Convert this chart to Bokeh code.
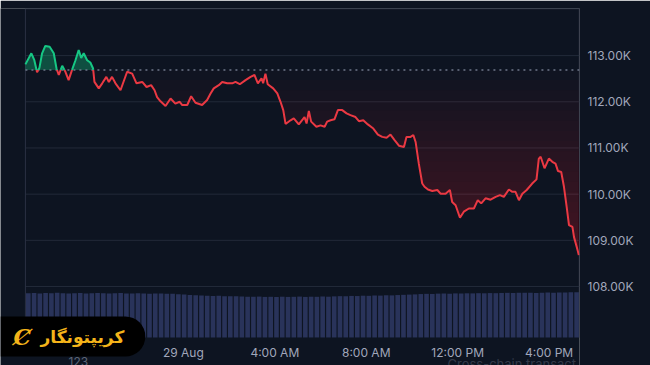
import numpy as np
from bokeh.plotting import figure
from bokeh.models import Range1d, FixedTicker, Label
from bokeh.core.properties import value
from bokeh.embed import file_html
from bokeh.resources import INLINE

# ---- data (hours relative to 29 Aug 00:00, price in thousands USD) ----
times = [-6.91, -6.65, -6.52, -6.40, -6.30, -6.18, -6.04, -5.85, -5.67, -5.55,
         -5.45, -5.30, -5.16, -5.02, -4.87, -4.72, -4.58, -4.47, -4.36, -4.21,
         -4.07, -3.95, -3.89, -3.70, -3.55, -3.37, -3.26, -3.12, -2.97, -2.75,
         -2.46, -2.24, -2.05, -1.80, -1.61, -1.41, -1.26, -1.15, -1.00, -0.78,
         -0.56, -0.35, -0.16, -0.05, 0.17, 0.34, 0.53, 0.82, 1.04, 1.19,
         1.33, 1.55, 1.70, 1.92, 2.14, 2.28, 2.47, 2.72, 2.94, 3.11,
         3.26, 3.42, 3.49, 3.59, 3.69, 3.93, 4.11, 4.25, 4.37, 4.47,
         4.69, 4.83, 5.05, 5.30, 5.39, 5.49, 5.59, 5.82, 6.00, 6.18,
         6.29, 6.44, 6.61, 6.76, 6.95, 7.14, 7.31, 7.53, 7.68, 7.87,
         8.07, 8.31, 8.51, 8.70, 8.89, 9.06, 9.24, 9.43, 9.65, 9.76,
         9.94, 10.06, 10.16, 10.30, 10.45, 10.55, 10.70, 10.89, 11.11, 11.25,
         11.47, 11.66, 11.76, 11.91, 12.10, 12.27, 12.49, 12.71, 12.88, 13.03,
         13.22, 13.44, 13.66, 13.85, 14.02, 14.24, 14.39, 14.53, 14.68, 14.83,
         15.02, 15.26, 15.45, 15.55, 15.63, 15.80, 15.99, 16.14, 16.28, 16.39,
         16.53, 16.65, 16.77, 16.87, 17.02, 17.09, 17.23, 17.30]
price_k = [112.81, 113.05, 112.90, 112.64, 112.73, 113.05, 113.21, 113.19, 113.05, 112.72,
           112.58, 112.78, 112.65, 112.47, 112.69, 112.90, 113.12, 112.95, 113.05, 112.90,
           112.85, 112.72, 112.43, 112.29, 112.40, 112.54, 112.43, 112.54, 112.40, 112.25,
           112.65, 112.61, 112.40, 112.43, 112.32, 112.36, 112.25, 112.10, 112.01, 111.91,
           112.07, 111.96, 112.00, 111.93, 111.93, 112.12, 111.98, 111.93, 112.04, 112.18,
           112.29, 112.36, 112.43, 112.40, 112.40, 112.43, 112.38, 112.47, 112.54, 112.58,
           112.40, 112.51, 112.40, 112.61, 112.38, 112.29, 112.18, 112.00, 111.82, 111.52,
           111.60, 111.64, 111.51, 111.67, 111.53, 111.80, 111.57, 111.46, 111.49, 111.46,
           111.57, 111.60, 111.62, 111.82, 111.82, 111.75, 111.71, 111.67, 111.58, 111.60,
           111.51, 111.42, 111.29, 111.24, 111.22, 111.29, 111.17, 111.05, 111.02, 111.24,
           111.24, 111.28, 111.13, 110.66, 110.23, 110.16, 110.10, 110.07, 110.09, 110.01,
           110.01, 110.09, 109.83, 109.76, 109.49, 109.62, 109.69, 109.69, 109.87, 109.80,
           109.91, 109.88, 109.94, 109.98, 109.94, 110.10, 110.05, 110.05, 109.87, 110.01,
           110.09, 110.23, 110.32, 110.77, 110.81, 110.56, 110.77, 110.70, 110.66, 110.50,
           110.48, 110.16, 109.72, 109.33, 109.29, 109.07, 108.82, 108.68]
baseline_k = 112.69

# 24h volume (billions USD), 96 bars across the window
volume_b = [40.2, 40.5, 40.1, 40.4, 40.3, 40.6, 40.2, 40.0, 40.3, 40.4, 40.1, 40.2, 40.5,
            40.3, 40.0, 40.2, 40.4, 40.1, 39.9, 40.2, 40.0, 39.8, 40.1, 39.9, 39.7, 39.8,
            39.4, 39.0, 38.7, 38.5, 38.2, 38.0, 37.8, 37.9, 37.6, 37.5, 37.4, 37.3,
            37.1, 37.0, 37.2, 36.9, 37.0, 36.8, 37.1, 36.9, 37.0, 37.2, 36.9, 37.1, 37.0,
            37.3, 37.1, 37.4,
            37.6, 37.5, 37.8, 37.7, 38.0, 37.9, 38.2, 38.1, 38.4, 38.3, 38.6, 38.8, 39.0, 39.2,
            39.5, 39.7, 39.6, 39.9, 40.0, 39.8, 40.1, 40.0, 40.2, 40.1, 40.3, 40.2,
            40.4, 40.3, 40.5, 40.6, 40.4, 40.7, 40.6, 40.8, 40.5, 40.7, 40.9, 40.8, 41.0,
            40.9, 41.1, 41.2]

x_ticks = [0, 4, 8, 12, 16]
x_labels = ["29 Aug", "4:00 AM", "8:00 AM", "12:00 PM", "4:00 PM"]
y_ticks = [108, 109, 110, 111, 112, 113]
y_labels = ["108.00K", "109.00K", "110.00K", "111.00K", "112.00K", "113.00K"]
brand = "کریپتونگار"

# ---- styling ----
BG = "#0d1421"
GRID = "#222a39"
BORDER = "#2a3142"
TXT = "#a1a7bb"
GREEN = "#16c784"
RED = "#ea3943"
VOL = "#29335a"
GOLD = "#f4b41a"

# chart window (data extent) and the pane below it
t_start, t_end = -6.91, 17.33
p_low, p_high = 106.89, 114.02
p = figure(width=650, height=365, output_backend="svg", toolbar_location=None,
           x_range=Range1d(-8.00, t_end), y_range=Range1d(106.29, p_high),
           x_axis_location=None, y_axis_location="right",
           min_border_left=0, min_border_top=8, min_border_right=71, min_border_bottom=0)
p.background_fill_color = BG
p.border_fill_color = BG
p.outline_line_color = None
p.xgrid.visible = False
p.ygrid.visible = False

# gridlines and frame border
p.segment(x0=t_start, x1=t_end, y0=y_ticks, y1=y_ticks, line_color=GRID, line_width=1)
p.line(x=[t_start, t_start, t_end - 0.01, t_end - 0.01], y=[p_low, p_high - 0.005, p_high - 0.005, p_low],
       line_color=BORDER, line_width=1)

# volume
p.extra_y_ranges = {"vol": Range1d(-25.5, 299.3)}
n = len(volume_b)
step = (t_end - t_start) / n
vol_x = t_start + (np.arange(n) + 0.5) * step
p.vbar(x=vol_x, top=volume_b, bottom=0, width=step * 0.8, y_range_name="vol",
       fill_color=VOL, line_color=None)

# split series at baseline crossings
t = np.array(times, dtype=float)
pr = np.array(price_k, dtype=float)
tt, pp = [t[0]], [pr[0]]
for i in range(1, len(t)):
    a, b = pr[i - 1] - baseline_k, pr[i] - baseline_k
    if a * b < 0:
        f = a / (a - b)
        tt.append(t[i - 1] + f * (t[i] - t[i - 1]))
        pp.append(baseline_k)
    tt.append(t[i])
    pp.append(pr[i])
tt = np.array(tt)
pp = np.array(pp)

# green fill above baseline
p.varea(x=tt, y1=np.full_like(pp, baseline_k), y2=np.maximum(pp, baseline_k),
        fill_color=GREEN, fill_alpha=0.33)

# red gradient fill below baseline (stacked translucent layers)
levels = np.arange(baseline_k, 108.4, -0.22)
for L in levels:
    p.varea(x=tt, y1=np.minimum(pp, L), y2=np.full_like(pp, L),
            fill_color=RED, fill_alpha=0.016)

# baseline (dotted)
p.segment(x0=[t_start], x1=[t_end], y0=[baseline_k], y1=[baseline_k],
          line_color="#6f778a", line_dash="2 4", line_width=1.5)

green_y = np.where(pp >= baseline_k, pp, np.nan)
red_y = np.where(pp <= baseline_k, pp, np.nan)
p.line(tt, red_y, line_color=RED, line_width=2)
p.line(tt, green_y, line_color=GREEN, line_width=2)

# price axis (right)
yax = p.yaxis[0]
yax.axis_line_color = None
yax.major_tick_line_color = None
yax.minor_tick_line_color = None
yax.major_tick_out = 0
yax.major_tick_in = 0
yax.minor_tick_out = 0
yax.minor_tick_in = 0
yax.major_label_text_color = TXT
yax.major_label_text_font = "Inter"
yax.major_label_text_font_size = "12px"
yax.ticker = FixedTicker(ticks=y_ticks)
yax.major_label_overrides = dict(zip(y_ticks, y_labels))
yax.major_label_standoff = 8

# time labels, below the volume pane
p.text(x=x_ticks, y=[106.575] * len(x_ticks), text=x_labels, text_align="center",
       text_baseline="middle", text_font=value("Inter"), text_font_size="12px",
       text_color=TXT)


def canvas_label(**kw):
    try:
        lab = Label(x_units="canvas", y_units="canvas", level="overlay", **kw)
    except Exception:
        lab = Label(x_units="screen", y_units="screen", level="overlay", **kw)
    p.add_layout(lab)
    return lab


# page fragments near the bottom edge
canvas_label(x=68, y=356, text="123", text_font="Inter", text_font_size="12px",
             text_color="#5c6476", text_align="left", text_baseline="top")
canvas_label(x=447, y=355, text="Cross-chain transact", text_font="Inter",
             text_font_size="13px", text_color="#333a4a", text_align="left",
             text_baseline="top")

# watermark pill
canvas_label(x=0, y=336, text=brand,
             text_font="DejaVu Sans", text_font_style="bold", text_font_size="17px",
             text_color=GOLD, text_align="left", text_baseline="middle",
             background_fill_color="#000000", background_fill_alpha=1.0,
             padding=dict(left=40, right=21, top=10, bottom=10),
             border_radius=dict(top_left=0, top_right=20, bottom_right=20, bottom_left=0))
canvas_label(x=13, y=336, text="Ȼ",
             text_font="DejaVu Serif", text_font_style="bold italic", text_font_size="22px",
             text_color=GOLD, text_align="left", text_baseline="middle")

open("out.html", "w").write(file_html(p, INLINE))
